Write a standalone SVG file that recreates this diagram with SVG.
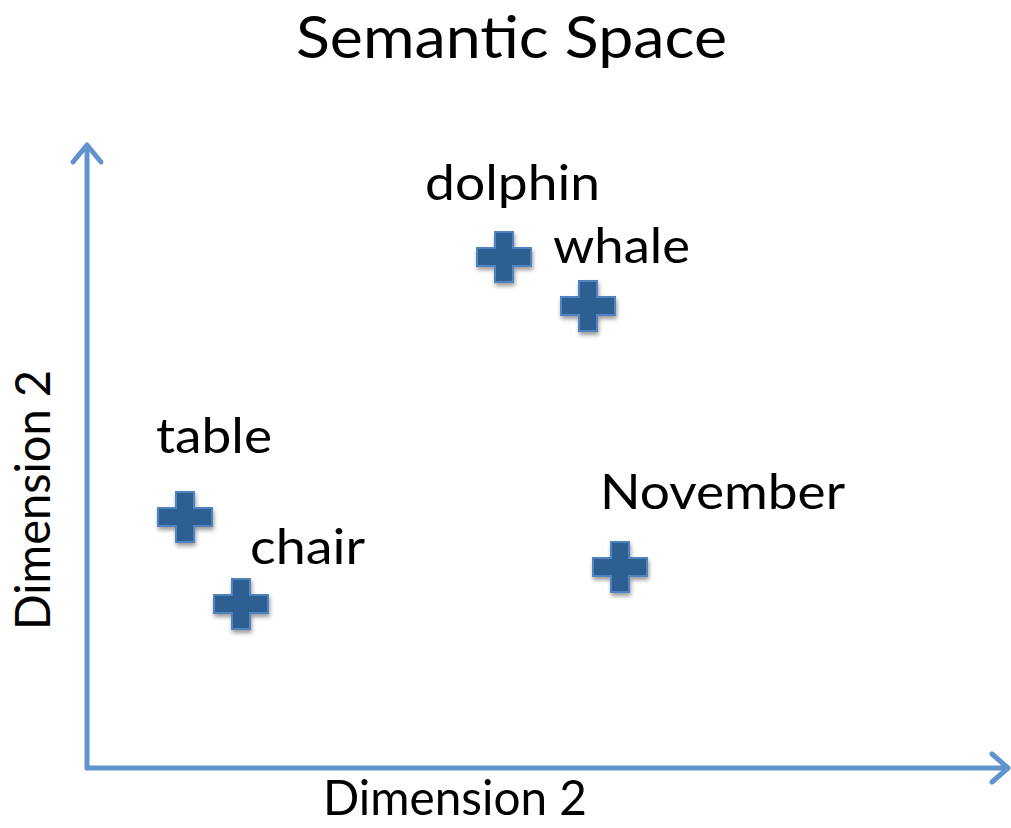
<svg xmlns="http://www.w3.org/2000/svg" width="1011" height="828" viewBox="0 0 1011 828">
<style>
.t{font-family:Lato,"Open Sans","Liberation Sans",sans-serif;fill:#000}
.lbl{font-size:49px}
.ax{stroke:#6193cf;stroke-width:5;fill:none;stroke-linecap:round;stroke-linejoin:round}
.cr{fill:#2d5e92;stroke:#4f84c0;stroke-width:2;filter:url(#sh)}
</style>
<defs>
<filter id="sh" x="-20%" y="-20%" width="150%" height="150%">
<feGaussianBlur in="SourceAlpha" stdDeviation="2"/>
<feOffset dx="1" dy="3" result="b"/>
<feComponentTransfer><feFuncA type="linear" slope="0.4"/></feComponentTransfer>
<feMerge><feMergeNode/><feMergeNode in="SourceGraphic"/></feMerge>
</filter>
<path id="plus" d="M-9,-25 H9 V-9 H27 V9 H9 V25 H-9 V9 H-27 V-9 H-9 Z"/>
</defs>
<text class="t" x="296" y="58" font-size="58" textLength="431" lengthAdjust="spacingAndGlyphs">Semantic Space</text>
<g id="axes">
<path class="ax" d="M87,768 V148"/>
<path class="ax" d="M73,162 L87,145 L101,162"/>
<path class="ax" d="M87,768 H1005"/>
<path class="ax" d="M992,754 L1008,768 L992,782"/>
</g>
<text class="t lbl" x="323" y="815" textLength="264" lengthAdjust="spacingAndGlyphs">Dimension 2</text>
<text class="t lbl" transform="translate(50,630) rotate(-90)" textLength="260" lengthAdjust="spacingAndGlyphs">Dimension 2</text>
<g id="dolphin"><use href="#plus" class="cr" x="504" y="257"/><text class="t lbl" x="425" y="200" textLength="175" lengthAdjust="spacingAndGlyphs">dolphin</text></g>
<g id="whale"><use href="#plus" class="cr" x="588" y="306"/><text class="t lbl" x="553" y="263" textLength="137" lengthAdjust="spacingAndGlyphs">whale</text></g>
<g id="table"><use href="#plus" class="cr" x="185" y="517"/><text class="t lbl" x="156" y="453" textLength="116" lengthAdjust="spacingAndGlyphs">table</text></g>
<g id="chair"><use href="#plus" class="cr" x="241" y="604"/><text class="t lbl" x="250" y="564" textLength="115" lengthAdjust="spacingAndGlyphs">chair</text></g>
<g id="november"><use href="#plus" class="cr" x="620" y="567"/><text class="t lbl" x="600" y="509" textLength="245" lengthAdjust="spacingAndGlyphs">November</text></g>
</svg>
